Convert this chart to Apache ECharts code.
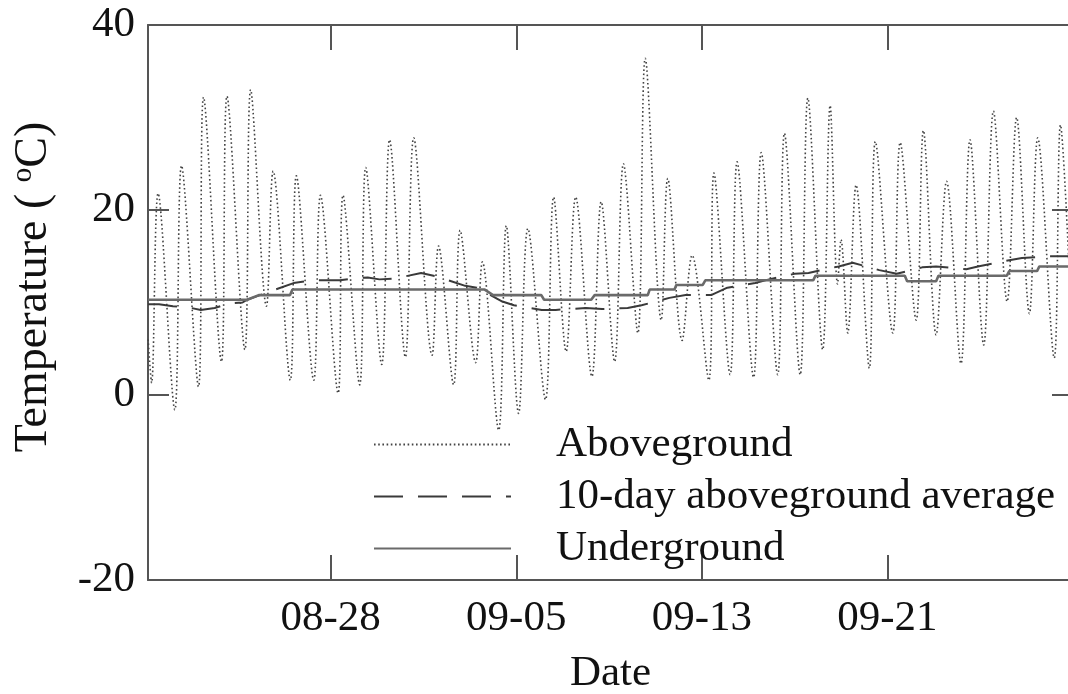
<!DOCTYPE html>
<html>
<head>
<meta charset="utf-8">
<script src="https://cdn.jsdelivr.net/npm/echarts@6/dist/echarts.min.js"></script>
<style>
html,body{margin:0;padding:0;background:#fff;}
#chart{width:1068px;height:694px;}
</style>
</head>
<body>
<div id="chart"></div>
<script>
// x values are days since 08-20 00:00
const xStartDay = 0.125;
const xEndDay = 40;
const tickLabels = ['08-28', '09-05', '09-13', '09-21'];
const yTicks = [-20, 0, 20, 40];

// Aboveground (daily troughs and peaks)
const aboveTime = [0.13, 0.28, 0.56, 1.28, 1.57, 2.30, 2.52, 3.29, 3.53, 4.30, 4.55, 5.23, 5.52,
  6.26, 6.52, 7.27, 7.56, 8.32, 8.53, 9.25, 9.51, 10.2, 10.54, 11.22, 11.58, 12.37, 12.65,
  13.30, 13.58, 14.25, 14.54, 15.24, 15.57, 16.10, 16.50, 17.26, 17.61, 18.15, 18.56,
  19.26, 19.66, 20.24, 20.62, 21.24, 21.56, 22.25, 22.53, 23.15, 23.58, 24.30, 24.52,
  25.22, 25.52, 26.23, 26.56, 27.27, 27.56, 28.24, 28.57, 29.21, 29.53, 29.85, 30.0,
  30.29, 30.65, 31.22, 31.48, 32.23, 32.55, 33.24, 33.55, 34.10, 34.55, 35.17, 35.56,
  36.15, 36.57, 37.16, 37.57, 38.12, 38.48, 39.19, 39.46, 39.9];
const aboveTemp = [6, 1.3, 21.8, -1.6, 24.8, 0.9, 32.2, 3.6, 32.3, 4.9, 33.0, 9.6, 24.2,
  1.6, 23.7, 1.6, 21.6, 0.2, 21.6, 1.1, 24.6, 3.3, 27.6, 4.1, 27.8, 4.3, 16.1,
  1.1, 17.8, 3.5, 14.4, -3.8, 18.3, -2.0, 18.0, -0.5, 21.4, 4.7, 21.4,
  2.0, 20.9, 3.6, 25.0, 6.7, 36.4, 8.1, 23.4, 5.9, 15.1, 1.6, 24.0,
  2.2, 25.2, 1.9, 26.2, 2.2, 28.3, 2.2, 32.1, 4.9, 31.3, 12, 16.8,
  6.7, 22.7, 2.9, 27.4, 6.7, 27.3, 8.1, 28.6, 6.5, 23.1, 3.4, 27.6,
  5.4, 30.7, 10.1, 30.0, 8.8, 27.8, 4.0, 29.2, 10];

// 10-day aboveground average
const avgTime = [0.13, 0.6, 1.2, 1.8, 2.4, 3.0, 3.6, 4.2, 4.4, 5.4, 6.4, 7.2, 8.4, 9.0, 9.6, 10.1,
  10.8, 11.9, 12.6, 13.8, 14.3, 15.4, 15.9, 17.1, 17.7, 19.0, 19.7, 20.8, 21.4, 22.6, 23.3,
  24.4, 25.1, 26.3, 26.9, 28.0, 28.6, 29.9, 30.5, 31.65, 32.4, 33.5, 34.1, 35.4, 35.9,
  37.1, 37.8, 38.9, 39.9];
const avgTemp = [9.8, 9.8, 9.6, 9.5, 9.2, 9.4, 9.9, 10.0, 10.3, 11.2, 12.1, 12.4, 12.4, 12.6, 12.7, 12.5,
  12.6, 13.2, 12.8, 11.8, 11.6, 10.1, 9.7, 9.2, 9.2, 9.4, 9.3, 9.4, 9.7, 10.5, 10.8,
  10.8, 11.6, 12.1, 12.5, 13.1, 13.2, 13.9, 14.3, 13.5, 13.1, 13.8, 13.9, 13.6, 13.9,
  14.5, 14.8, 15.0, 15.0];

// Underground
const underTime = [0.13, 4.4, 4.9, 6.25, 6.35, 14.64, 15.0, 17.08, 17.2, 19.23, 19.38, 21.67, 21.75,
  22.82, 22.9, 24.04, 24.15, 28.8, 28.9, 32.75, 32.85, 34.1, 34.2, 37.15, 37.25, 38.45, 38.55, 40];
const underTemp = [10.3, 10.3, 10.8, 10.8, 11.4, 11.4, 10.8, 10.8, 10.3, 10.3, 10.8, 10.8, 11.4,
  11.4, 11.9, 11.9, 12.4, 12.4, 12.9, 12.9, 12.3, 12.3, 12.9, 12.9, 13.4, 13.4, 13.9, 13.9];

const seriesNames = ['Aboveground', '10-day aboveground average', 'Underground'];

function labelToDay(lbl) {
  const [m, d] = lbl.split('-').map(Number);
  return m === 8 ? d - 20 : (31 - 20) + d;
}
const tickDays = tickLabels.map(labelToDay);
const zip = (a, b) => a.map((v, i) => [v, b[i]]);

const FONT = 'Liberation Serif';
const AX = '#555';
const TXT = '#111';

const chart = echarts.init(document.getElementById('chart'), null, {renderer: 'canvas'});
chart.setOption({
  animation: false,
  backgroundColor: '#fff',
  grid: {left: 148, top: 25, width: 925, bottom: 114, show: false, outerBoundsMode: 'none', containLabel: false},
  legend: {
    orient: 'vertical', left: 368, top: 418,
    itemWidth: 137, itemHeight: 14, itemGap: 9,
    itemStyle: {color: 'rgba(0,0,0,0)', borderColor: 'rgba(0,0,0,0)', borderWidth: 0},
    textStyle: {fontFamily: FONT, fontSize: 43, color: TXT, lineHeight: 43, padding: [0, 0, 0, 40]},
    data: seriesNames
  },
  xAxis: [{
    type: 'value', min: xStartDay, max: xEndDay,
    axisLine: {show: true, onZero: false, lineStyle: {color: AX, width: 2}},
    axisTick: {show: true, inside: true, length: 25, lineStyle: {color: AX, width: 2}, customValues: tickDays},
    axisLabel: {show: true, customValues: tickDays, margin: 17,
      fontFamily: FONT, fontSize: 43, color: TXT,
      formatter: v => tickLabels[tickDays.indexOf(Math.round(v))] || ''},
    splitLine: {show: false},
    name: 'Date', nameLocation: 'middle', nameGap: 72,
    nameTextStyle: {fontFamily: FONT, fontSize: 43, color: TXT}
  }, {
    type: 'value', min: xStartDay, max: xEndDay, position: 'top',
    axisLine: {show: true, onZero: false, lineStyle: {color: AX, width: 2}},
    axisTick: {show: true, inside: true, length: 25, lineStyle: {color: AX, width: 2}, customValues: tickDays},
    axisLabel: {show: false}, splitLine: {show: false}
  }],
  yAxis: [{
    type: 'value', min: yTicks[0], max: yTicks[yTicks.length - 1], interval: 20,
    axisLine: {show: true, onZero: false, lineStyle: {color: AX, width: 2}},
    axisTick: {show: true, inside: true, length: 21, lineStyle: {color: AX, width: 2}},
    axisLabel: {margin: 13, fontFamily: FONT, fontSize: 43, color: TXT},
    splitLine: {show: false}
  }, {
    type: 'value', min: yTicks[0], max: yTicks[yTicks.length - 1], interval: 20, position: 'right',
    axisLine: {show: true, onZero: false, lineStyle: {color: AX, width: 2}},
    axisTick: {show: true, inside: true, length: 21, lineStyle: {color: AX, width: 2}},
    axisLabel: {show: false}, splitLine: {show: false}
  }],
  graphic: [{
    type: 'text', x: 34, y: 287, rotation: Math.PI / 2,
    style: {
      text: 'Temperature ( {sup|o}C)',
      font: '46px "Liberation Serif"', fill: TXT,
      align: 'center', verticalAlign: 'middle',
      rich: {sup: {fontSize: 29, fontFamily: FONT, fill: TXT, padding: [0, 0, 22, 0]}}
    }
  }],
  series: [{
    name: seriesNames[0], type: 'line', data: zip(aboveTime, aboveTemp),
    smooth: 0.35, symbol: 'none', z: 2,
    lineStyle: {color: '#444', width: 1.6, type: [1.6, 2.6]},
    itemStyle: {color: '#444'}
  }, {
    name: seriesNames[1], type: 'line', data: zip(avgTime, avgTemp),
    symbol: 'none', z: 3,
    lineStyle: {color: '#3a3a3a', width: 2, type: [29, 15]},
    itemStyle: {color: '#3a3a3a'}
  }, {
    name: seriesNames[2], type: 'line', data: zip(underTime, underTemp),
    symbol: 'none', z: 4,
    lineStyle: {color: '#6a6a6a', width: 2.6, type: 'solid'},
    itemStyle: {color: '#6a6a6a'}
  }]
});
</script>
</body>
</html>
